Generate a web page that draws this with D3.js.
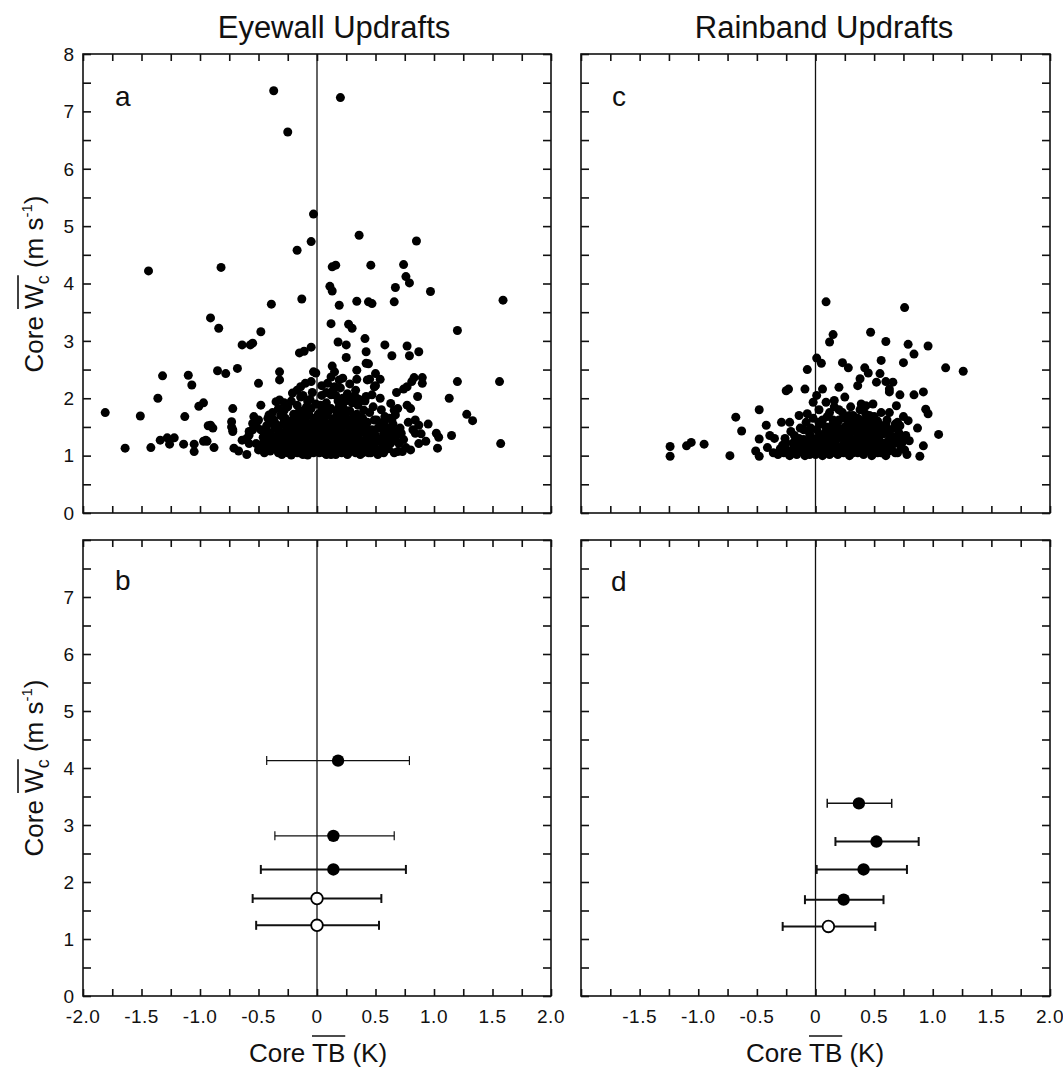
<!DOCTYPE html>
<html>
<head>
<meta charset="utf-8">
<script src="https://cdn.jsdelivr.net/npm/d3@7"></script>
<style>
  body { margin: 0; background: #fff; }
  text { font-family: "Liberation Sans", Arial, Helvetica, sans-serif; fill: #111; }
</style>
</head>
<body>
<div id="chartContainer"></div>
<script>
// ---- data ----
var xTickLabels = ["-2.0", "-1.5", "-1.0", "-0.5", "0", "0.5", "1.0", "1.5", "2.0"];
var xTickValues = [-2, -1.5, -1, -0.5, 0, 0.5, 1, 1.5, 2];
var yTickValues = [0, 1, 2, 3, 4, 5, 6, 7, 8];
var titles = ["Eyewall Updrafts", "Rainband Updrafts"];
var panelLetters = ["a", "b", "c", "d"];

// panel a : eyewall updrafts, [core TB, core W]
var eyewallPoints = [
  [-0.37,7.36],[0.20,7.24],[-0.25,6.64],[-0.03,5.21],[-0.05,4.73],[-0.17,4.58],[-1.44,4.22],[-0.82,4.28],
  [-0.13,3.73],[-0.39,3.64],[-0.91,3.40],[-0.84,3.22],[-0.48,3.16],[-0.64,2.93],[-0.57,2.93],[-0.55,2.96],
  [-0.15,2.79],[-0.11,2.82],[-0.05,2.89],[0.13,4.29],[0.16,4.32],[0.11,3.95],[0.13,3.87],[0.19,3.62],
  [0.12,3.30],[0.27,3.29],[0.30,3.22],[0.18,2.98],[0.25,2.93],[0.34,3.69],[0.36,4.84],[0.85,4.74],
  [0.46,4.32],[0.74,4.33],[0.76,4.12],[0.79,4.01],[0.67,3.93],[0.97,3.86],[1.59,3.71],[0.44,3.68],
  [0.47,3.65],[0.66,3.68],[1.20,3.18],[0.41,3.04],[0.58,2.93],[0.77,2.91],[0.87,2.81],[0.79,2.74],
  [0.42,2.81],[0.64,2.74],[0.25,2.71],[0.13,2.56],[-0.01,2.44],[-0.32,2.46],[-0.32,2.32],[-0.50,2.26],
  [0.34,2.49],[0.50,2.43],[0.54,2.33],[0.45,2.33],[0.34,2.33],[0.50,2.22],[0.83,2.36],[0.90,2.36],
  [0.90,2.26],[1.20,2.29],[1.56,2.29],[1.13,2.00],[1.28,1.72],[1.33,1.61],[1.15,1.35],[1.57,1.21],
  [1.02,1.39],[1.04,1.32],[1.03,1.13],[0.86,2.03],[0.77,1.88],[0.80,1.82],[0.68,2.10],[0.74,2.16],
  [0.77,2.20],[0.81,2.29],[0.84,1.62],[0.87,1.53],[0.84,1.39],[0.89,1.38],[0.87,1.21],[0.72,1.39],
  [0.67,1.27],[0.70,1.21],[0.76,1.14],[0.73,1.07],[0.69,1.07],[0.63,1.91],[0.66,1.79],[0.67,1.71],
  [0.64,1.62],[0.59,1.50],[0.57,1.39],[0.54,2.00],[0.47,2.06],[0.49,2.20],[0.42,2.61],[0.22,2.00],
  [0.26,2.00],[0.15,2.20],[0.12,2.06],[0.19,2.32],[0.22,2.35],[0.12,2.37],[0.15,2.46],[0.09,2.26],
  [0.33,2.14],[0.34,2.00],[0.43,2.32],[0.40,1.79],[0.42,2.03],[0.44,2.60],
  [-1.81,1.75],[-1.64,1.13],[-1.51,1.69],[-1.42,1.14],[-1.36,2.00],[-1.32,2.39],[-1.34,1.27],[-1.28,1.31],
  [-1.26,1.20],[-1.22,1.31],[-1.14,1.20],[-1.13,1.68],[-1.10,2.40],[-1.07,2.23],[-1.05,1.20],[-1.05,1.07],
  [-1.01,1.86],[-0.97,1.92],[-0.97,1.25],[-0.94,1.25],[-0.93,1.52],[-0.89,1.48],[-0.88,1.14],[-0.85,2.48],
  [-0.78,2.43],[-0.72,1.82],[-0.73,1.59],[-0.73,1.50],[-0.72,1.42],[-0.71,1.13],[-0.67,1.08],[-0.60,1.02],
  [-0.68,2.52],[-0.48,1.88],[-0.54,1.68],[-0.55,1.56],[-0.58,1.42],[-0.60,1.30],[-0.58,1.21],[-0.52,1.21],
  [-0.50,1.10],[-0.45,1.18],[-0.44,1.10],[-0.41,1.71],[-0.40,1.59],[-0.36,1.23],[-0.35,1.13],[-0.32,1.97],
  [-0.33,1.82],[-0.28,1.79],[-0.27,1.65],[-0.24,1.50],[-0.22,1.36],[-0.22,1.01],[-0.21,2.09],[-0.17,2.14],
  [-0.14,2.20],[-0.10,2.26],[-0.05,2.29],[-0.03,2.46],[-0.08,1.01],[-0.64,1.27],[-0.58,1.36],[-0.55,1.45],
  [-0.52,1.53],[-0.50,1.62],[-0.35,1.94],[-0.91,1.53],[-0.95,1.27],[-0.72,1.45],
  [-0.48,1.45],[-0.46,1.32],[-0.43,1.52],[-0.42,1.28],[-0.40,1.40],[-0.38,1.15],[-0.37,1.62],[-0.36,1.48],
  [-0.34,1.35],[-0.33,1.05],[-0.31,1.70],[-0.30,1.25],[-0.29,1.55],[-0.28,1.12],[-0.27,1.42],[-0.25,1.85],
  [-0.24,1.22],[-0.23,1.60],[-0.22,1.95],[-0.21,1.30],[-0.20,1.08],[-0.20,1.72],
  [-0.19,1.45],[-0.18,1.18],[-0.17,1.88],[-0.16,1.35],[-0.15,1.62],[-0.15,1.05],[-0.14,2.02],[-0.13,1.25],
  [-0.12,1.52],[-0.12,1.78],[-0.11,1.12],[-0.10,1.40],[-0.09,1.68],[-0.08,1.95],[-0.08,1.20],[-0.07,1.32],
  [-0.06,1.55],[-0.05,1.82],[-0.05,1.08],[-0.04,2.10],[-0.03,1.44],[-0.03,1.28],[-0.02,1.65],[-0.01,1.15],
  [-0.01,1.90],
  [0.01,1.38],[0.02,1.05],[0.02,1.58],[0.03,1.22],[0.04,1.78],[0.04,2.05],[0.05,1.12],[0.06,1.48],
  [0.06,1.32],[0.07,1.68],[0.08,1.02],[0.08,1.92],[0.09,1.25],[0.10,1.55],[0.10,1.15],[0.11,1.42],
  [0.12,1.82],[0.12,1.08],[0.13,1.35],[0.14,1.62],[0.14,2.15],[0.15,1.20],[0.16,1.48],[0.16,1.02],
  [0.17,1.75],[0.18,1.30],[0.18,1.95],[0.19,1.12],[0.20,1.58],[0.20,1.40],
  [0.21,1.05],[0.22,1.25],[0.22,1.85],[0.23,1.52],[0.24,1.68],[0.24,1.15],[0.25,1.38],[0.26,1.02],
  [0.26,2.08],[0.27,1.58],[0.28,1.22],[0.28,1.78],[0.29,1.45],[0.30,1.10],[0.30,1.92],[0.31,1.32],
  [0.32,1.62],[0.33,1.05],[0.33,1.48],[0.34,1.72],[0.35,1.18],[0.35,1.88],[0.36,1.38],[0.37,1.02],
  [0.37,1.55],[0.38,1.25],[0.39,1.65],[0.40,1.12],[0.40,1.42],
  [0.41,1.95],[0.42,1.30],[0.43,1.58],[0.44,1.05],[0.45,1.75],[0.46,1.20],[0.47,1.45],[0.48,1.85],
  [0.49,1.10],[0.50,1.35],[0.51,1.62],[0.52,1.02],[0.53,1.25],[0.54,1.52],[0.55,1.80],[0.56,1.15],
  [0.57,1.05],[0.58,1.68],[0.60,1.30],[0.61,1.12],[0.62,1.42],[0.63,1.22],[0.65,1.55],[0.66,1.05],
  [0.68,1.35],[0.69,1.82],[0.71,1.48],[0.74,1.28],[0.78,1.58],[0.80,1.10],[0.82,1.45],[0.93,1.25],
  [0.95,1.55],
  [-0.45,1.05],[-0.41,1.22],[-0.39,1.32],[-0.35,1.55],[-0.32,1.42],[-0.31,1.15],[-0.29,1.35],[-0.26,1.28],
  [-0.25,1.05],[-0.23,1.38],[-0.21,1.48],[-0.19,1.25],[-0.18,1.62],[-0.17,1.05],[-0.16,1.52],[-0.14,1.15],
  [-0.13,1.42],[-0.12,1.32],[-0.11,1.62],[-0.10,1.05],[-0.09,1.22],[-0.08,1.48],[-0.07,1.72],[-0.06,1.12],
  [-0.05,1.38],[-0.04,1.58],[-0.03,1.05],[-0.02,1.22],[-0.01,1.52],[0.00,1.32],[0.01,1.72],[0.02,1.15],
  [0.03,1.45],[0.04,1.28],[0.05,1.62],[0.06,1.05],[0.07,1.20],[0.08,1.38],[0.09,1.52],[0.10,1.78],
  [0.11,1.25],[0.12,1.02],[0.13,1.55],[0.14,1.15],[0.15,1.42],[0.16,1.30],[0.17,1.10],[0.18,1.62],
  [0.19,1.48],[0.20,1.20],[0.21,1.72],[0.22,1.08],[0.23,1.38],[0.24,1.28],[0.25,1.55],[0.26,1.15],
  [0.27,1.05],[0.28,1.42],[0.29,1.28],[0.30,1.65],[0.31,1.18],[0.32,1.08],[0.33,1.35],[0.34,1.55],
  [0.36,1.12],[0.38,1.45],[0.39,1.05],[0.41,1.25],[0.43,1.15],[0.45,1.38],[0.46,1.05],[0.48,1.28],
  [0.50,1.12],[0.52,1.48],[0.55,1.30],[0.58,1.10],[0.60,1.45],[0.64,1.30],[-0.15,1.78],[0.06,1.85],
  [0.24,1.95],[-0.06,1.98],[0.16,2.05],[0.36,1.98],[0.28,2.25],[0.04,2.22],[-0.28,1.92],[-0.38,1.75],
  [-0.44,1.38],[-0.40,1.08],[-0.37,1.28],[-0.34,1.48],[-0.30,1.02],[-0.28,1.62],[-0.26,1.18],[-0.24,1.40],
  [-0.22,1.12],[-0.20,1.55],[-0.18,1.32],[-0.16,1.12],[-0.14,1.68],[-0.12,1.02],[-0.10,1.50],[-0.09,1.85],
  [-0.07,1.05],[-0.06,1.28],[-0.04,1.18],[-0.02,1.40],[0.00,1.10],[0.00,1.60],[0.02,1.30],[0.03,1.88],
  [0.05,1.40],[0.07,1.10],[0.09,1.70],[0.11,1.05],[0.13,1.22],[0.15,1.65],[0.17,1.38],[0.19,1.85],
  [0.21,1.28],[0.23,1.12],[0.25,1.78],[0.27,1.32],[0.29,1.15],[0.31,1.52],[0.33,1.25],[0.35,1.68],
  [0.37,1.40],[0.39,1.20],[0.42,1.50],[0.44,1.32],[0.47,1.12],[0.49,1.62],[0.51,1.25],[0.54,1.08],
  [0.57,1.58],[0.59,1.25],[0.62,1.65],[0.66,1.42],[-0.46,1.22],[-0.42,1.65],[0.08,2.10],[0.20,2.18],
  [-0.12,2.05],[0.30,2.02]
];

// panel c : rainband updrafts, [core TB, core W]
var rainbandPoints = [
  [0.09,3.68],[0.76,3.58],[0.47,3.15],[0.15,3.11],[0.12,2.98],[0.60,2.99],[0.79,2.94],[0.96,2.91],
  [0.84,2.77],[0.01,2.70],[0.05,2.61],[0.56,2.66],[0.75,2.62],[0.23,2.62],[0.28,2.53],[-0.07,2.50],
  [1.11,2.53],[1.26,2.47],[0.42,2.53],[0.45,2.44],[0.55,2.43],[0.38,2.34],[0.36,2.22],[0.52,2.28],
  [0.60,2.29],[0.66,2.28],[0.63,2.16],[0.63,2.11],[-0.25,2.13],[-0.23,2.16],[-0.09,2.16],[0.06,2.16],
  [0.20,2.19],[0.25,2.02],[0.72,2.06],[0.84,2.06],[0.92,2.11],[0.01,2.05],[-0.02,1.93],[0.09,1.93],
  [0.16,1.96],[-0.48,1.80],[-0.68,1.67],[-0.63,1.43],[-0.42,1.53],[-0.48,1.29],[-0.39,1.35],[-0.35,1.30],
  [-0.29,1.58],[-0.22,1.58],[-0.14,1.70],[-0.07,1.73],[-1.24,1.16],[-1.24,0.99],[-1.10,1.17],[-1.06,1.23],
  [-0.95,1.20],[-0.73,1.00],[-0.51,1.08],[-0.48,0.99],[-0.41,1.14],[-0.36,1.05],[0.94,1.81],[0.96,1.73],
  [0.87,1.48],[1.05,1.37],[0.92,1.17],[0.89,0.99],[0.80,1.26],[0.74,1.23],[0.79,1.61],[0.72,1.52],
  [0.69,1.87],[0.63,1.75],[0.49,1.90],[0.43,1.87],[0.39,1.90],[0.56,1.75],[0.52,1.61],
  [-0.32,1.02],[-0.30,1.12],[-0.27,1.05],[-0.25,1.22],[-0.22,1.00],[-0.20,1.10],[-0.18,1.35],[-0.16,1.02],
  [-0.15,1.18],[-0.13,1.48],[-0.12,1.08],[-0.10,1.28],[-0.09,1.00],[-0.08,1.58],[-0.07,1.15],[-0.05,1.38],
  [-0.04,1.05],[-0.03,1.22],[-0.02,1.65],[-0.01,1.10],[0.00,1.02],[0.01,1.45],[0.02,1.30],[0.03,1.80],
  [0.04,1.12],[0.05,1.55],[0.06,1.00],[0.07,1.25],[0.08,1.40],[0.09,1.08],[0.10,1.68],[0.11,1.18],
  [0.12,1.02],[0.13,1.35],[0.14,1.52],[0.15,1.10],[0.16,1.85],[0.17,1.25],[0.18,1.42],[0.19,1.02],
  [0.20,1.62],[0.21,1.15],[0.22,1.32],[0.23,1.75],[0.24,1.05],[0.25,1.50],[0.26,1.22],[0.27,1.40],
  [0.28,1.60],[0.29,1.00],[0.30,1.30],[0.31,1.12],[0.32,1.70],[0.33,1.45],[0.34,1.20],[0.35,1.55],
  [0.36,1.05],[0.37,1.35],[0.38,1.62],[0.39,1.15],[0.40,1.48],[0.41,1.02],[0.42,1.28],[0.43,1.72],
  [0.44,1.40],[0.45,1.10],[0.46,1.58],[0.47,1.22],[0.48,1.00],[0.49,1.35],[0.50,1.68],[0.51,1.15],
  [0.52,1.45],[0.53,1.05],[0.54,1.28],[0.56,1.52],[0.57,1.12],[0.58,1.38],[0.60,1.00],[0.61,1.62],
  [0.62,1.25],[0.64,1.45],[0.65,1.10],[0.67,1.32],[0.68,1.55],[0.70,1.05],[0.71,1.40],[0.73,1.15],
  [0.75,1.68],[0.77,1.35],[0.78,1.02],
  [-0.28,1.18],[-0.24,1.08],[-0.19,1.22],[-0.17,1.05],[-0.14,1.30],[-0.11,1.15],[-0.06,1.25],[-0.04,1.48],
  [0.00,1.20],[0.02,1.08],[0.04,1.35],[0.06,1.62],[0.08,1.18],[0.10,1.05],[0.12,1.28],[0.14,1.42],
  [0.16,1.15],[0.18,1.55],[0.19,1.30],[0.21,1.05],[0.22,1.45],[0.24,1.20],[0.25,1.65],[0.27,1.10],
  [0.28,1.35],[0.30,1.50],[0.31,1.22],[0.32,1.05],[0.33,1.60],[0.35,1.30],[0.36,1.42],[0.37,1.15],
  [0.38,1.80],[0.40,1.25],[0.41,1.58],[0.42,1.08],[0.44,1.52],[0.45,1.30],[0.46,1.70],[0.48,1.18],
  [0.49,1.48],[0.50,1.05],[0.52,1.25],[0.53,1.60],[0.55,1.15],[0.57,1.40],[0.59,1.22],[0.60,1.55],
  [0.62,1.08],[0.63,1.35],[0.66,1.20],[0.68,1.05],[0.70,1.58],[0.72,1.28],[0.76,1.10],[0.30,1.85],
  [0.12,1.75],[-0.10,1.45],[0.20,1.80],
  [-0.26,1.30],[-0.21,1.42],[-0.16,1.12],[-0.12,1.20],[-0.08,1.08],[-0.05,1.02],[-0.02,1.30],[0.01,1.12],
  [0.03,1.58],[0.05,1.22],[0.07,1.05],[0.09,1.50],[0.11,1.35],[0.13,1.10],[0.15,1.62],[0.17,1.05],
  [0.19,1.48],[0.21,1.38],[0.23,1.12],[0.26,1.30],[0.28,1.08],[0.29,1.70],[0.31,1.42],[0.34,1.10],
  [0.36,1.65],[0.38,1.28],[0.40,1.05],[0.42,1.40],[0.43,1.22],[0.45,1.62],[0.47,1.08],[0.50,1.30],
  [0.51,1.55],[0.54,1.40],[0.56,1.05],[0.58,1.18],[0.61,1.42],[0.64,1.15],[0.67,1.48],[0.69,1.22]
];

// panels b and d : binned means with spread
var eyewallBinW      = [4.13, 2.81, 2.22, 1.71, 1.24];
var eyewallBinTB     = [0.18, 0.14, 0.14, 0.00, 0.00];
var eyewallBinLo     = [-0.43, -0.36, -0.48, -0.55, -0.52];
var eyewallBinHi     = [0.79, 0.66, 0.76, 0.55, 0.53];
var eyewallBinFilled = [true, true, true, false, false];

var rainbandBinW      = [3.38, 2.71, 2.22, 1.69, 1.22];
var rainbandBinTB     = [0.37, 0.52, 0.41, 0.24, 0.11];
var rainbandBinLo     = [0.10, 0.17, 0.01, -0.09, -0.28];
var rainbandBinHi     = [0.65, 0.88, 0.78, 0.58, 0.51];
var rainbandBinFilled = [true, true, true, true, false];

// ---- layout ----
var W = 1063, H = 1068;
var cols = [{ x0: 83, x1: 551 }, { x0: 581, x1: 1050 }];
var rows = [{ y0: 54, y1: 513 }, { y0: 540, y1: 996 }];
var eyewallBarWidth = [1.2, 1.2, 2, 2, 2];
var rainbandBarWidth = [1.5, 2, 2, 2, 2];

var svg = d3.select("#chartContainer").append("svg")
    .attr("width", W).attr("height", H);

function makePanel(col, row) {
    var c = cols[col], r = rows[row];
    var x = d3.scaleLinear().domain([-2, 2]).range([c.x0, c.x1]);
    var y = d3.scaleLinear().domain([0, 8]).range([r.y1, r.y0]);
    var g = svg.append("g");
    var minorX = d3.range(-2, 2.001, 0.25);
    var minorY = d3.range(0, 8.001, 0.5);

    // inward ticks on all four sides
    g.append("g").attr("transform", "translate(0," + r.y1 + ")")
        .call(d3.axisBottom(x).tickValues(minorX).tickSize(-7).tickFormat(""));
    g.append("g").attr("transform", "translate(0," + r.y0 + ")")
        .call(d3.axisTop(x).tickValues(minorX).tickSize(-7).tickFormat(""));
    g.append("g").attr("transform", "translate(" + c.x0 + ",0)")
        .call(d3.axisLeft(y).tickValues(minorY).tickSize(-8).tickFormat(""));
    g.append("g").attr("transform", "translate(" + c.x1 + ",0)")
        .call(d3.axisRight(y).tickValues(minorY).tickSize(-8).tickFormat(""));
    g.selectAll(".domain").remove();
    g.selectAll(".tick line").attr("stroke", "#111").attr("stroke-width", 1.6);

    g.append("rect")
        .attr("x", c.x0).attr("y", r.y0)
        .attr("width", c.x1 - c.x0).attr("height", r.y1 - r.y0)
        .attr("fill", "none").attr("stroke", "#111").attr("stroke-width", 1.6);

    // zero line
    g.append("line")
        .attr("x1", x(0)).attr("x2", x(0))
        .attr("y1", r.y0).attr("y2", r.y1)
        .attr("stroke", "#111").attr("stroke-width", 1.3);

    return { g: g, x: x, y: y };
}

function scatter(p, pts) {
    p.g.append("g").selectAll("circle")
        .data(pts).enter().append("circle")
        .attr("cx", function (d) { return p.x(d[0]); })
        .attr("cy", function (d) { return p.y(d[1]); })
        .attr("r", 4.5)
        .attr("fill", "#000");
}

function bins(p, w, tb, lo, hi, filled, widths) {
    for (var i = 0; i < w.length; i++) {
        var yy = p.y(w[i]);
        var gb = p.g.append("g").attr("stroke", "#111").attr("stroke-width", widths[i]);
        gb.append("line").attr("x1", p.x(lo[i])).attr("x2", p.x(hi[i])).attr("y1", yy).attr("y2", yy);
        gb.append("line").attr("x1", p.x(lo[i])).attr("x2", p.x(lo[i])).attr("y1", yy - 4.5).attr("y2", yy + 4.5);
        gb.append("line").attr("x1", p.x(hi[i])).attr("x2", p.x(hi[i])).attr("y1", yy - 4.5).attr("y2", yy + 4.5);
        p.g.append("circle")
            .attr("cx", p.x(tb[i])).attr("cy", yy).attr("r", filled[i] ? 6.2 : 5.8)
            .attr("fill", filled[i] ? "#000" : "#fff")
            .attr("stroke", "#000").attr("stroke-width", filled[i] ? 0 : 1.8);
    }
}

var pa = makePanel(0, 0);
var pb = makePanel(0, 1);
var pc = makePanel(1, 0);
var pd = makePanel(1, 1);

scatter(pa, eyewallPoints);
scatter(pc, rainbandPoints);
bins(pb, eyewallBinW, eyewallBinTB, eyewallBinLo, eyewallBinHi, eyewallBinFilled, eyewallBarWidth);
bins(pd, rainbandBinW, rainbandBinTB, rainbandBinLo, rainbandBinHi, rainbandBinFilled, rainbandBarWidth);

// y tick labels (left panels only)
[pa, pb].forEach(function (p, i) {
    var vals = i === 0 ? yTickValues : yTickValues.slice(0, 8);
    p.g.selectAll(".ylab").data(vals).enter().append("text")
        .attr("x", 74).attr("y", function (d) { return p.y(d); })
        .attr("dy", "0.36em")
        .attr("text-anchor", "end")
        .attr("font-size", 19)
        .text(function (d) { return d; });
});

// x tick labels (bottom panels only)
[pb, pd].forEach(function (p, i) {
    var idx = d3.range(xTickValues.length).filter(function (k) { return i === 0 || k > 0; });
    p.g.selectAll(".xlab").data(idx).enter().append("text")
        .attr("x", function (k) { return p.x(xTickValues[k]); })
        .attr("y", 1023)
        .attr("text-anchor", "middle")
        .attr("font-size", 19)
        .attr("letter-spacing", 0.5)
        .text(function (k) { return xTickLabels[k]; });
});

// panel letters
[[pa, 115, 106], [pb, 115, 590], [pc, 612, 106], [pd, 611, 591]].forEach(function (d, i) {
    svg.append("text").attr("x", d[1]).attr("y", d[2])
        .attr("font-size", 28).text(panelLetters[i]);
});

// titles
svg.append("text").attr("x", 334).attr("y", 38).attr("text-anchor", "middle")
    .attr("font-size", 31).text(titles[0]);
svg.append("text").attr("x", 824).attr("y", 38).attr("text-anchor", "middle")
    .attr("font-size", 31).text(titles[1]);

function overline(textSel, i0, i1, off) {
    var n = textSel.node();
    var a = n.getStartPositionOfChar(i0);
    var b = n.getEndPositionOfChar(i1);
    var par = d3.select(n.parentNode);
    par.append("line")
        .attr("x1", a.x).attr("x2", b.x)
        .attr("y1", -off).attr("y2", -off)
        .attr("stroke", "#111").attr("stroke-width", 1.6);
}

// y axis titles
[284, 768].forEach(function (cy) {
    var g = svg.append("g").attr("transform", "translate(43," + cy + ") rotate(-90)");
    var t = g.append("text").attr("text-anchor", "middle").attr("font-size", 26);
    t.append("tspan").text("Core ");
    t.append("tspan").text("W");
    t.append("tspan").attr("font-size", 18).attr("dy", 6).text("c");
    t.append("tspan").attr("dy", -6).text(" (m s");
    t.append("tspan").attr("font-size", 15).attr("dy", -11).text("-1");
    t.append("tspan").attr("dy", 11).text(")");
    overline(t, 5, 6, 25);
});

// x axis titles
[318, 815].forEach(function (cx) {
    var g = svg.append("g").attr("transform", "translate(" + cx + ",1062)");
    var t = g.append("text").attr("text-anchor", "middle").attr("font-size", 26).text("Core TB (K)");
    overline(t, 5, 6, 26);
});
</script>
</body>
</html>
